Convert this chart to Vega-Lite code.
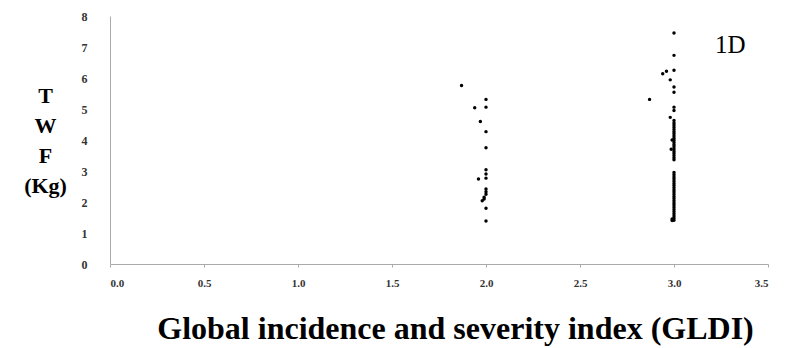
{
  "$schema": "https://vega.github.io/schema/vega-lite/v6.json",
  "autosize": {"type": "none"},
  "width": 658,
  "height": 248,
  "padding": {"left": 110, "top": 16, "right": 17, "bottom": 84},
  "background": "white",
  "config": {"view": {"stroke": null}, "font": "Liberation Serif", "axis": {"labelOverlap": false}},
  "datasets": {
    "pts": [
      {"gldi": 1.87, "twf": 5.76}, {"gldi": 2.0, "twf": 5.31}, {"gldi": 1.94, "twf": 5.04}, {"gldi": 2.0, "twf": 5.06},
      {"gldi": 1.97, "twf": 4.6}, {"gldi": 2.0, "twf": 4.27}, {"gldi": 2.0, "twf": 3.75}, {"gldi": 2.0, "twf": 3.04},
      {"gldi": 2.0, "twf": 2.9}, {"gldi": 1.96, "twf": 2.74}, {"gldi": 2.0, "twf": 2.77}, {"gldi": 2.0, "twf": 2.42},
      {"gldi": 2.0, "twf": 2.25}, {"gldi": 1.99, "twf": 2.15}, {"gldi": 1.98, "twf": 2.04}, {"gldi": 2.0, "twf": 1.8},
      {"gldi": 2.0, "twf": 1.39}, {"gldi": 2.0, "twf": 2.33}, {"gldi": 1.99, "twf": 2.1},
      {"gldi": 3.0, "twf": 7.45}, {"gldi": 3.0, "twf": 6.73}, {"gldi": 3.0, "twf": 6.25}, {"gldi": 3.0, "twf": 5.71},
      {"gldi": 3.0, "twf": 5.54}, {"gldi": 3.0, "twf": 5.06}, {"gldi": 3.0, "twf": 4.95}, {"gldi": 3.0, "twf": 4.63},
      {"gldi": 2.94, "twf": 6.14}, {"gldi": 2.96, "twf": 6.22}, {"gldi": 2.98, "twf": 5.94}, {"gldi": 2.87, "twf": 5.31},
      {"gldi": 2.98, "twf": 4.73}, {"gldi": 2.99, "twf": 4.0}, {"gldi": 2.985, "twf": 3.7},
      {"gldi": 3.0, "twf": 4.55}, {"gldi": 3.0, "twf": 4.48}, {"gldi": 3.0, "twf": 4.41}, {"gldi": 3.0, "twf": 4.34},
      {"gldi": 3.0, "twf": 4.27}, {"gldi": 3.0, "twf": 4.2}, {"gldi": 3.0, "twf": 4.13}, {"gldi": 3.0, "twf": 4.06},
      {"gldi": 3.0, "twf": 3.99}, {"gldi": 3.0, "twf": 3.92}, {"gldi": 3.0, "twf": 3.85}, {"gldi": 3.0, "twf": 3.78},
      {"gldi": 3.0, "twf": 3.71}, {"gldi": 3.0, "twf": 3.64}, {"gldi": 3.0, "twf": 3.57}, {"gldi": 3.0, "twf": 3.5},
      {"gldi": 3.0, "twf": 3.43}, {"gldi": 3.0, "twf": 3.36},
      {"gldi": 3.0, "twf": 2.95}, {"gldi": 3.0, "twf": 2.88}, {"gldi": 3.0, "twf": 2.81}, {"gldi": 3.0, "twf": 2.74},
      {"gldi": 3.0, "twf": 2.67}, {"gldi": 3.0, "twf": 2.6}, {"gldi": 3.0, "twf": 2.53}, {"gldi": 3.0, "twf": 2.46},
      {"gldi": 3.0, "twf": 2.39}, {"gldi": 3.0, "twf": 2.32}, {"gldi": 3.0, "twf": 2.25}, {"gldi": 3.0, "twf": 2.18},
      {"gldi": 3.0, "twf": 2.11}, {"gldi": 3.0, "twf": 2.04}, {"gldi": 3.0, "twf": 1.97}, {"gldi": 3.0, "twf": 1.9},
      {"gldi": 3.0, "twf": 1.83}, {"gldi": 3.0, "twf": 1.76}, {"gldi": 3.0, "twf": 1.69}, {"gldi": 3.0, "twf": 1.62},
      {"gldi": 3.0, "twf": 1.55}, {"gldi": 3.0, "twf": 1.48}, {"gldi": 3.0, "twf": 1.41},
      {"gldi": 2.99, "twf": 1.45}, {"gldi": 2.99, "twf": 1.4}
    ],
    "lbl": [{"gldi": 3.3, "twf": 7.05, "text": "1D"}]
  },
  "layer": [
    {
      "data": {"name": "pts"},
      "mark": {"type": "circle", "size": 12, "color": "black", "opacity": 1},
      "encoding": {
        "x": {
          "field": "gldi", "type": "quantitative",
          "scale": {"domain": [0, 3.5], "nice": false, "zero": true},
          "axis": {
            "values": [0, 0.5, 1, 1.5, 2, 2.5, 3, 3.5], "format": ".1f", "grid": false,
            "domainColor": "#aaaaaa", "tickColor": "#aaaaaa", "tickSize": 3,
            "labelFont": "Liberation Serif", "labelFontWeight": "bold", "labelFontSize": 11, "labelColor": "#333333",
            "labelPadding": 10, "labelOverlap": false,
            "title": "Global incidence and severity index (GLDI)",
            "titleFont": "Liberation Serif", "titleFontWeight": "bold", "titleFontSize": 32, "titleColor": "#000000",
            "titleBaseline": "middle", "titleY": 64, "titleX": 345
          }
        },
        "y": {
          "field": "twf", "type": "quantitative",
          "scale": {"domain": [0, 8], "nice": false},
          "axis": {
            "values": [0, 1, 2, 3, 4, 5, 6, 7, 8], "tickCount": 9, "grid": false, "ticks": false,
            "domainColor": "#aaaaaa", "labelOverlap": false,
            "labelFont": "Liberation Serif", "labelFontWeight": "bold", "labelFontSize": 12, "labelColor": "#333333",
            "labelPadding": 23,
            "title": ["T", "W", "F", "(Kg)"],
            "titleFont": "Liberation Serif", "titleFontWeight": "bold", "titleFontSize": 22, "titleColor": "#000000",
            "titleAngle": 0, "titleAlign": "center", "titleBaseline": "top",
            "titleX": -65, "titleY": 69, "titleLineHeight": 30
          }
        }
      }
    },
    {
      "data": {"name": "lbl"},
      "mark": {"type": "text", "font": "Liberation Serif", "fontSize": 25, "color": "black", "align": "center", "baseline": "middle"},
      "encoding": {
        "x": {"field": "gldi", "type": "quantitative"},
        "y": {"field": "twf", "type": "quantitative"},
        "text": {"field": "text"}
      }
    }
  ]
}
